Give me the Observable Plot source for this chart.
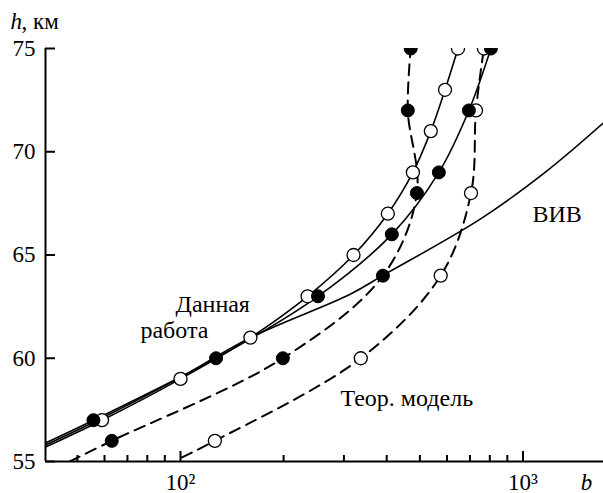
<!DOCTYPE html>
<html><head><meta charset="utf-8">
<script src="https://cdn.jsdelivr.net/npm/d3@7"></script>
<script src="https://cdn.jsdelivr.net/npm/@observablehq/plot@0.6"></script>
<style>html,body{margin:0;padding:0;background:#fff}svg{display:block}
svg text{font-family:"Liberation Serif","Tinos","Times New Roman","DejaVu Serif",serif !important}</style>
</head><body><div id="chart"></div>
<script>
// axes
const xDomain = [40.35, 1718];
const yDomain = [55, 75];
const yTicks = [55, 60, 65, 70, 75];
const xMajorTicks = [100, 1000];
const xMajorLabels = ["10²", "10³"];
const xMinorTicks = [50, 60, 70, 80, 90, 200, 300, 400, 500, 600, 700, 800, 900];

// "Данная работа" – open circles
const hOpen = [57, 59, 61, 63, 65, 67, 69, 71, 73, 75];
const bOpen = [59, 100, 160, 235, 320, 403, 477, 538, 592, 646];
// "Данная работа" – filled circles
const hFilled = [57, 60, 63, 66, 69, 72, 75];
const bFilled = [55.7, 127, 252, 414, 568, 695, 806];
// ВИВ (no markers)
const hVIV = [55.8, 57, 59, 61, 63.1, 64, 66.75, 69.1, 71.4];
const bVIV = [40.35, 57.3, 98, 160, 313, 389, 752, 1180, 1718];
// "Теор. модель" – filled circles (dashed)
const hTheoF = [56, 60, 64, 68, 72, 75];
const bTheoF = [63, 199, 390, 490, 461, 470];
// "Теор. модель" – open circles (dashed)
const hTheoO = [56, 60, 64, 68, 72, 75];
const bTheoO = [126, 336, 575, 705, 729, 769];
// unmarked lower ends of the curves: open, filled, theoF, theoO
const startH = [55.7, 55.9, 55.0, 55.2];
const startB = [40.35, 40.35, 47.5, 101];

// text labels
const labelText = ["Данная", "работа", "Теор. модель", "ВИВ"];
const labelB = [96.7, 76.4, 293, 1066];
const labelH = [62.26, 60.96, 57.71, 66.62];

const pts = (hs, bs) => hs.map((h, i) => ({h, b: bs[i]}));
const withStart = (k, hs, bs) => [{h: startH[k], b: startB[k]}, ...pts(hs, bs)];

const lineOpen = withStart(0, hOpen, bOpen);
const lineFilled = withStart(1, hFilled, bFilled);
const lineVIV = pts(hVIV, bVIV);
const lineTheoF = withStart(2, hTheoF, bTheoF);
const lineTheoO = withStart(3, hTheoO, bTheoO);
const openDots = [...pts(hOpen, bOpen), ...pts(hTheoO, bTheoO)];
const filledDots = [...pts(hFilled, bFilled), ...pts(hTheoF, bTheoF)];
const labels = labelText.map((t, i) => ({t, b: labelB[i], h: labelH[i]}));

const FF = "Liberation Serif, Tinos, Times New Roman, DejaVu Serif, serif";
const FS = 23;
const txt = {fontFamily: FF, fontSize: FS, fill: "black"};
const solid = {x: "b", y: "h", curve: "catmull-rom", stroke: "black", strokeWidth: 1.6, clip: true};
const dashed = {...solid, strokeWidth: 2, strokeDasharray: "11,7"};

const chart = Plot.plot({
  width: 603, height: 493,
  marginLeft: 45, marginRight: 0, marginTop: 48, marginBottom: 32,
  style: {fontFamily: FF, background: "white", color: "black", overflow: "visible"},
  x: {type: "log", domain: xDomain, axis: null},
  y: {domain: yDomain, axis: null},
  marks: [
    // axis lines
    Plot.ruleY([yDomain[0]], {stroke: "black", strokeWidth: 2}),
    Plot.ruleX([xDomain[0]], {stroke: "black", strokeWidth: 2}),
    // ticks (inward)
    Plot.ruleY(yTicks, {y: d => d, x1: xDomain[0], x2: xDomain[0], insetRight: -10, stroke: "black", strokeWidth: 2}),
    Plot.ruleX(xMajorTicks, {x: d => d, y1: yDomain[0], y2: yDomain[0], insetTop: -10, stroke: "black", strokeWidth: 2}),
    Plot.ruleX(xMinorTicks, {x: d => d, y1: yDomain[0], y2: yDomain[0], insetTop: -6, stroke: "black", strokeWidth: 2}),
    // tick labels
    Plot.text(yTicks, {...txt, x: xDomain[0], y: d => d, text: d => String(d), textAnchor: "end", dx: -10}),
    Plot.text(xMajorTicks, {...txt, x: d => d, y: yDomain[0], text: (d, i) => xMajorLabels[i], textAnchor: "middle", lineAnchor: "bottom", dy: 28}),
    // axis titles
    Plot.text(["h"], {...txt, frameAnchor: "top-left", text: d => d, textAnchor: "start", lineAnchor: "bottom", dx: -35, dy: -20, fontStyle: "italic"}),
    Plot.text([", км"], {...txt, frameAnchor: "top-left", text: d => d, textAnchor: "start", lineAnchor: "bottom", dx: -24, dy: -20}),
    Plot.text(["b"], {...txt, frameAnchor: "bottom-right", text: d => d, textAnchor: "middle", lineAnchor: "bottom", dx: -17, dy: 28, fontStyle: "italic"}),
    // curves
    Plot.line(lineVIV, solid),
    Plot.line(lineOpen, solid),
    Plot.line(lineFilled, solid),
    Plot.line(lineTheoF, dashed),
    Plot.line(lineTheoO, dashed),
    // markers
    Plot.dot(openDots, {x: "b", y: "h", r: 6.5, fill: "white", stroke: "black", strokeWidth: 1.3, clip: true}),
    Plot.dot(filledDots, {x: "b", y: "h", r: 6.5, fill: "black", stroke: "black", strokeWidth: 1, clip: true}),
    // annotations
    Plot.text(labels, {...txt, x: "b", y: "h", text: "t", textAnchor: "start", lineAnchor: "bottom", fontSize: 24})
  ]
});
document.getElementById("chart").appendChild(chart);
</script>
</body></html>
